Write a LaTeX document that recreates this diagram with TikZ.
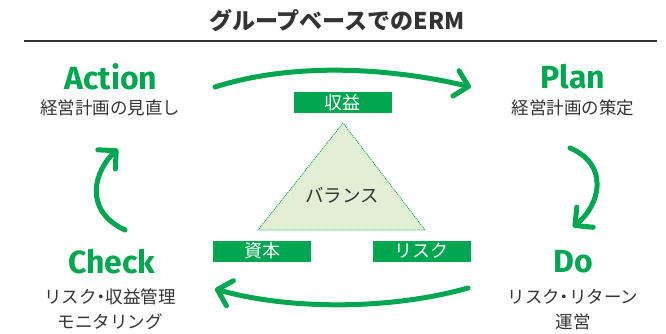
\documentclass[tikz,border=0pt]{standalone}
\usepackage{fontspec}
\setmainfont{Noto Sans CJK JP}
\newfontfamily\pdcafont{Fira Sans}
\usetikzlibrary{arrows.meta}
\definecolor{erm}{HTML}{00A650}
\definecolor{txt}{HTML}{333333}
\definecolor{trifill}{HTML}{E2EFD5}
\newcommand{\mdot}{\kern-0.25em・\kern-0.25em}
\tikzset{
  pdca/.style={text=erm, font=\pdcafont\bfseries\fontsize{32}{32}\selectfont, inner sep=0pt},
  sub/.style={text=txt, font=\fontsize{17.5}{17.5}\selectfont, inner sep=0pt},
  lbl/.style={fill=erm, text=white, font=\fontsize{18}{18}\selectfont, minimum width=98pt, minimum height=21pt, inner sep=0pt},
  arr/.style={draw=erm, line width=5pt, line cap=round, -{Straight Barb[length=13pt,width=26pt,round]}},
  tri/.style={draw=erm, fill=trifill, line width=0.8pt, dash pattern=on 1pt off 1pt}
}
\begin{document}
\begin{tikzpicture}[x=1pt,y=-1pt]
\useasboundingbox (0,0) rectangle (666,334);
% title
\node[text=txt, font=\bfseries\fontsize{23}{23}\selectfont, inner sep=0pt] (title) at (337,21) {グループベースでのERM};
\coordinate (rulel) at (24,41);
\coordinate (ruler) at (657,41);
\draw[txt, line width=1.3pt] (rulel) -- (ruler);
% PDCA
\node[pdca] (action) at (111,77) {Action};
\node[sub] (actionsub) at (110,108) {経営計画の見直し};
\node[pdca] (plan) at (573,77) {Plan};
\node[sub] (plansub) at (573,108) {経営計画の策定};
\node[pdca] (check) at (112,262) {Check};
\node[sub] (checksub1) at (110,297) {リスク\mdot 収益管理};
\node[sub] (checksub2) at (110,322) {モニタリング};
\node[pdca] (do) at (573,262) {Do};
\node[sub] (dosub1) at (573,297) {リスク\mdot リターン};
\node[sub] (dosub2) at (573,322) {運営};
% arrows
\coordinate (t1) at (215,87);
\coordinate (t2) at (471,87);
\draw[arr] (t1) .. controls (300,60) and (400,70) .. (t2);
\coordinate (r1) at (570,148);
\coordinate (r2) at (573,227);
\draw[arr] (r1) .. controls (610,165) and (600,205) .. (r2);
\coordinate (b1) at (468,288);
\coordinate (b2) at (215,289);
\draw[arr] (b1) .. controls (390,310) and (290,310) .. (b2);
\coordinate (l1) at (125,230);
\coordinate (l2) at (118,149);
\draw[arr] (l1) .. controls (82,210) and (95,170) .. (l2);
% triangle
\coordinate (ta) at (343,123);
\coordinate (tl) at (258,230);
\coordinate (tr) at (425,230);
\draw[tri] (ta) -- (tl) -- (tr) -- cycle;
\node[text=txt, font=\fontsize{18.5}{18.5}\selectfont, inner sep=0pt] (balance) at (342,195) {バランス};
% labels
\node[lbl] (lblrev) at (342.5,102.5) {収益};
\node[lbl] (lblcapital) at (262,251) {資本};
\node[lbl] (lblrisk) at (421.5,251) {リスク};
\end{tikzpicture}
\end{document}
